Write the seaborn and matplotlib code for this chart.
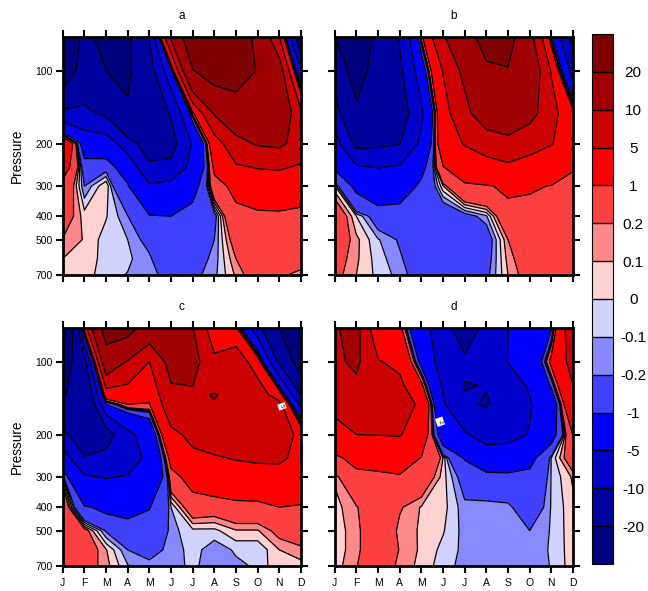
import numpy as np
import matplotlib
matplotlib.use('Agg')
import matplotlib.pyplot as plt
import seaborn as sns

sns.set_theme(style="white")
plt.rcParams['font.family'] = ['Liberation Sans', 'DejaVu Sans']

months = ['J', 'F', 'M', 'A', 'M', 'J', 'J', 'A', 'S', 'O', 'N', 'D']
pressure = [72.3, 100, 150, 200, 250, 300, 400, 500, 600, 700]
pressure_c = [72.3, 100, 137, 150, 200, 250, 300, 400, 500, 600, 700]
pressure_d = [72.3, 100, 125, 150, 200, 250, 300, 400, 500, 600, 700]
pressure_ticks = [100, 200, 300, 400, 500, 700]
levels = [-20, -10, -5, -1, -0.2, -0.1, 0, 0.1, 0.2, 1, 5, 10, 20]
level_labels = ['-20', '-10', '-5', '-1', '-0.2', '-0.1', '0', '0.1', '0.2', '1', '5', '10', '20']
band_colors = ['#00007f', '#00009f', '#0000cc', '#0000ff', '#4040ff', '#8888ff', '#d2d2ff',
               '#ffd2d2', '#ff8888', '#ff4040', '#ff0000', '#cc0000', '#a00000', '#7f0000']

# one row per month, one column per pressure level
panel_a = [
    [-32, -28, -8.3, 3.6, 1.7, .6, .35, .19, .1, .05],
    [-17, -15, -8.8, -2, -.45, -.2, .05, .09, .09, .06],
    [-24, -20, -11, -2.3, -.3, .1, .01, -.05, -.06, -.07],
    [-22, -21.5, -19, -7.6, -2, -.85, -.19, -.1, -.08, -.105],
    [-9.5, -12.5, -14, -13, -9, -4.5, -.85, -.27, -.17, -.13],
    [11, -1.5, -9.5, -12, -8.8, -3.5, -1, -.6, -.45, -.3],
    [28, 19.5, .5, -4.6, -3.5, -1.6, -.5, -.35, -.3, -.25],
    [27, 25, 10.5, 2.7, 1.3, .6, -.3, -.2, -.16, -.13],
    [30, 26, 14, 8.5, 4.5, 1.3, .75, .35, .2, .12],
    [16, 19.4, 15.5, 10.5, 5.3, 2.2, .7, .42, .35, .33],
    [5, 13, 15, 11, 5.6, 2.2, .75, .4, .3, .23],
    [-15, -5, 6, 8, 4.5, 1.7, .7, .45, .3, .15],
]
panel_b = [
    [-20, -14, -7, -3, -1.2, .02, .45, .38, .3, .26],
    [-26, -24, -18.5, -11.5, -4.5, -1.3, 0, .13, .12, .1],
    [-18, -16, -15.5, -11, -5.2, -2.2, -.35, -.09, -.05, -.03],
    [-9.5, -11, -13, -10.2, -4.6, -2, -.3, -.22, -.18, -.14],
    [.5, -2.5, -5.8, -4, -1.5, -.7, -.4, -.35, -.32, -.3],
    [9.5, 5.2, 3.4, 2.6, .95, .09, -.45, -.42, -.38, -.35],
    [15, 11.5, 8.3, 5.3, 2.2, .75, -.3, -.5, -.45, -.4],
    [25, 18, 14, 6.5, 3.8, .85, -.12, -.35, -.3, -.25],
    [24, 19.5, 14, 8.5, 4.2, 1.3, .55, .2, .14, .1],
    [12, 15, 12, 6.2, 3.8, 1.15, .6, .42, .35, .3],
    [-.5, 4.7, 6.5, 5.2, 2.7, .95, .55, .42, .35, .3],
    [-12, -7, 1.8, 2.7, 1.1, .7, .55, .45, .4, .35],
]
panel_c = [
    [-40, -26, -20.6, -19, -8.5, -2.5, .05, .6, .55, .5, .5],
    [2.5, -12, -16.7, -18, -13.5, -9.7, -4.5, -.85, .3, .35, .3],
    [25, 15, 2.6, -1, -12.5, -8.5, -5.2, -1.3, -.22, .11, .14],
    [24, 9.5, 2.9, 1, -6, -7, -4.8, -1.4, -.6, -.2, -.09],
    [14.5, 5, 1.8, .85, -3, -4, -3.5, -1.05, -.6, -.25, -.17],
    [10.2, 12, 8.9, 8, 4, 1.6, .5, -.1, -.14, -.17, -.17],
    [10.2, 12, 9.3, 8.5, 6, 4.2, 1.6, .4, -.03, -.05, -.06],
    [2, 6, 10.2, 9.8, 7.5, 4.6, 2.2, .35, -.03, -.17, -.2],
    [1.3, 8, 8.8, 9, 7.5, 5.3, 2.9, .45, .09, -.08, -.13],
    [-8, 2.5, 7.5, 9, 7.5, 5.7, 3.2, .45, .09, -.08, -.08],
    [-20, -11, 2.6, 6.5, 8, 6.2, 2.4, 1, .27, .1, .09],
    [-30, -25, -10.3, -6, 3.5, 3, 2, .9, .4, .15, .07],
]
panel_d = [
    [9.5, 9, 7.6, 6.5, 3, .65, .12, .06, .05, .05, .05],
    [11.8, 11, 9.1, 7.5, 5, 1.6, .55, .18, .15, .15, .19],
    [.95, 5.3, 6.8, 8, 5.1, 1.7, .7, .45, .42, .42, .42],
    [1.5, 4, 5.9, 7.5, 5.3, 1.9, .85, .22, .16, .19, .14],
    [-4, -1.7, 1.4, 4, 2.3, .95, .42, .09, .085, .08, .08],
    [-6.5, -7, -5.6, -4.5, -2, .1, .05, .04, .01, -.03, -.065],
    [-15, -8.5, -10.3, -9.3, -4.5, -1.1, -.32, -.16, -.14, -.13, -.13],
    [-7.5, -9, -9.8, -10.4, -7, -2.5, -.5, -.12, -.14, -.14, -.14],
    [-5.05, -4.9, -6.6, -8, -6.3, -2.8, -.5, -.15, -.13, -.13, -.13],
    [-3.5, -4, -4.6, -5.3, -4.8, -1.4, -.7, -.4, -.2, -.15, -.13],
    [-1.2, 1.5, -.7, -2.5, -1.6, -.09, -.09, -.09, -.09, -.09, -.097],
    [8.6, 6.5, 5, 3.5, 1.05, .4, .12, .07, .065, .06, .057],
]

W, H = 648, 591
palette = sns.color_palette(band_colors)
fig = plt.figure(figsize=(W / 100, H / 100), dpi=100)


def add_panel(x0, y0, levs_p, values, title, left, bottom):
    ax = fig.add_axes([x0 / W, 1 - (y0 + 238.3) / H, 238.3 / W, 238.3 / H])
    z = np.array(values).T
    x = np.arange(12)
    # contours are interpolated in log pressure, so the axis itself holds log10(p)
    logp = np.log10(levs_p)
    cf = ax.contourf(x, logp, z, levels=levels, colors=palette[1:-1], extend='both')
    cf.cmap.set_under(palette[0])
    cf.cmap.set_over(palette[-1])
    ax.contour(x, logp, z, levels=levels, colors='black', linewidths=0.9, linestyles='solid')
    ax.set_ylim(logp[-1], logp[0])
    ax.set_xlim(0, 11)
    ax.set_yticks(np.log10(pressure_ticks))
    ax.set_xticks(x)
    ax.set_yticklabels([str(p) for p in pressure_ticks] if left else [])
    ax.set_xticklabels(months if bottom else [])
    ax.tick_params(axis='both', which='major', direction='out', length=5.2, width=1.5, color='black',
                   top=True, right=True, left=True, bottom=True, labelsize=7.5, pad=2, labelcolor='black')
    ax.tick_params(axis='x', pad=3.5)
    for s in ax.spines.values():
        s.set_visible(True)
        s.set_linewidth(2)
        s.set_color('black')
    ax.set_title(title, fontsize=8.5, pad=12.5, color='black')
    if left:
        ax.set_ylabel('Pressure', fontsize=9.8, labelpad=8, color='black')
    return ax, cf


ax_a, cf = add_panel(62.7, 36.7, pressure, panel_a, 'a', True, False)
ax_b, _ = add_panel(334.7, 36.7, pressure, panel_b, 'b', False, False)
ax_c, _ = add_panel(62.7, 327.7, pressure_c, panel_c, 'c', True, True)
ax_d, _ = add_panel(334.7, 327.7, pressure_d, panel_d, 'd', False, True)

# contour labels left on the lines
ax_c.text(10.12, np.log10(153), '5', fontsize=4.5, rotation=-70, ha='center', va='center', color='black',
          bbox=dict(facecolor='white', edgecolor='none', pad=1))
ax_d.text(4.86, np.log10(177), '-2', fontsize=4.5, rotation=-70, ha='center', va='center', color='black',
          bbox=dict(facecolor='white', edgecolor='none', pad=1))

cax = fig.add_axes([591.7 / W, 1 - 564 / H, 21.3 / W, 530 / H])
cb = fig.colorbar(cf, cax=cax, ticks=levels, spacing='uniform', extendrect=True,
                  extendfrac=1 / 12, drawedges=True)
cb.set_ticklabels(level_labels)
cb.ax.tick_params(length=0, labelsize=11, pad=14.5, labelcolor='black')
cb.dividers.set_color('black')
cb.dividers.set_linewidth(1)
cb.outline.set_edgecolor('black')
cb.outline.set_linewidth(0.8)
for t in cb.ax.get_yticklabels():
    t.set_ha('center')

fig.savefig('out.png', dpi=100)
